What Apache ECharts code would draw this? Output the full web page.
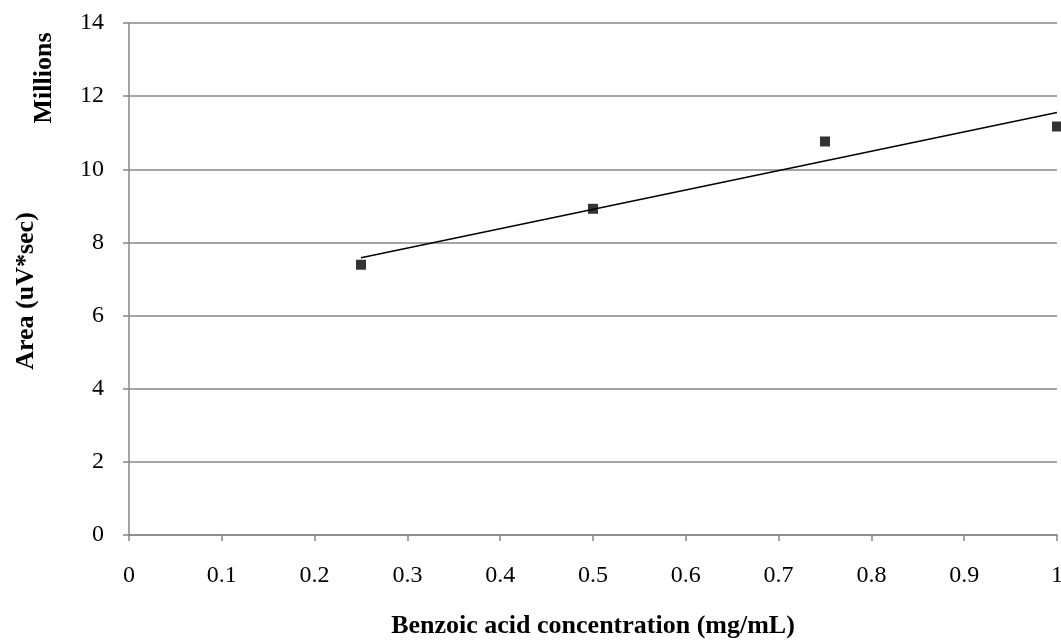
<!DOCTYPE html>
<html>
<head>
<meta charset="utf-8">
<script src="https://cdn.jsdelivr.net/npm/echarts@6/dist/echarts.min.js"></script>
<style>
  html, body { margin: 0; padding: 0; background: #fff; }
  #chart { width: 1061px; height: 641px; }
</style>
</head>
<body>
<div id="chart"></div>
<script>
// 数据
const concentration = [0.25, 0.5, 0.75, 1]
const area = [7.39, 8.92, 10.76, 11.17] // millions
const trendX = [0.25, 1]
const trendY = [7.58, 11.55]
const xTicks = [0, 0.1, 0.2, 0.3, 0.4, 0.5, 0.6, 0.7, 0.8, 0.9, 1]
const yTicks = [0, 2, 4, 6, 8, 10, 12, 14]

const font = '"Liberation Serif", "DejaVu Serif", serif'
const gray = '#878787'

// 标题文字（可旋转）
function titleText(text, x, y, rotated) {
  return {
    type: 'text',
    x: x,
    y: y,
    rotation: rotated ? Math.PI / 2 : 0,
    style: {
      text: text,
      font: 'bold 26px ' + font,
      fill: '#000',
      align: 'center',
      verticalAlign: 'middle'
    }
  }
}

const chart = echarts.init(document.getElementById('chart'))

chart.setOption({
  animation: false,
  grid: { left: 129, right: 4, top: 23, bottom: 106, outerBoundsMode: 'none' },
  xAxis: {
    type: 'value',
    min: xTicks[0],
    max: xTicks[xTicks.length - 1],
    interval: 0.1,
    axisLine: { show: true, lineStyle: { color: gray, width: 1.5 } },
    axisTick: { show: true, length: 6, lineStyle: { color: gray, width: 1.5 } },
    axisLabel: { fontFamily: font, fontSize: 24, color: '#000', margin: 29 },
    splitLine: { show: false }
  },
  yAxis: {
    type: 'value',
    min: yTicks[0],
    max: yTicks[yTicks.length - 1],
    interval: 2,
    axisLine: { show: true, lineStyle: { color: gray, width: 1.5 } },
    axisTick: { show: true, length: 6, lineStyle: { color: gray, width: 1.5 } },
    axisLabel: { fontFamily: font, fontSize: 24, color: '#000', margin: 25 },
    splitLine: { show: true, lineStyle: { color: gray, width: 1.5 } }
  },
  graphic: [
    titleText('Millions', 44, 78, true),
    titleText('Area (uV*sec)', 26, 291, true),
    titleText('Benzoic acid concentration (mg/mL)', 593, 626, false)
  ],
  series: [
    {
      type: 'line',
      data: trendX.map((x, i) => [x, trendY[i]]),
      showSymbol: false,
      lineStyle: { color: '#000', width: 1.5 },
      clip: false
    },
    {
      type: 'scatter',
      data: concentration.map((x, i) => [x, area[i]]),
      symbol: 'rect',
      symbolSize: 10,
      itemStyle: { color: '#000' },
      clip: false
    }
  ]
})
</script>
</body>
</html>
